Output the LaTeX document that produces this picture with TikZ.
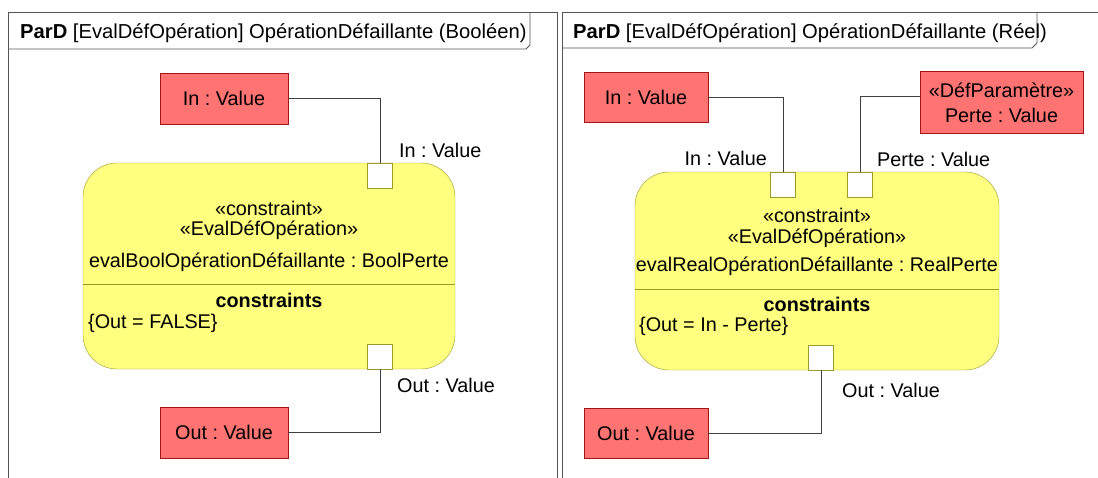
\documentclass[tikz,border=0pt]{standalone}
\usepackage{fontspec}
\setmainfont{Liberation Sans}
\frenchspacing
\usetikzlibrary{positioning}
\definecolor{cval}{RGB}{255,115,115}
\definecolor{cvalb}{RGB}{165,20,20}
\definecolor{cblk}{RGB}{255,255,128}
\definecolor{cblkb}{RGB}{155,155,40}
\definecolor{cfrm}{RGB}{85,85,85}

\begin{document}
\begin{tikzpicture}[x=1pt,y=-1pt,
  font=\fontsize{19.8}{22}\selectfont,
  val/.style={rectangle,draw=cvalb,fill=cval,inner sep=0,align=center},
  blk/.style={rectangle,rounded corners=34pt,draw=cblkb,fill=cblk,inner sep=0},
  port/.style={rectangle,draw=cblkb,fill=white,minimum size=25pt,inner sep=0},
  wire/.style={draw=black!75,line width=0.9pt},
  frm/.style={draw=cfrm,line width=0.9pt},
  sep/.style={draw=cblkb,line width=0.8pt},
  txt/.style={inner sep=0},
  ttl/.style={txt,anchor=west,font=\fontsize{20.2}{24}\selectfont},
]
\clip (0,0) rectangle (1098,477);
\fill[white] (0,0) rectangle (1098,477);

% Booleen
\draw[frm] (8,490) -- (8,12) -- (557,12) -- (557,490);
\draw[frm] (8,49) -- (526,49) -- (530,45) -- (530,12);
\node[ttl] (t1) at (20,33) {\textbf{ParD} [EvalDéfOpération] OpérationDéfaillante (Booléen)};
\node[val,minimum width=128,minimum height=51] (in1) at (224,98.5) {In : Value};
\node[val,minimum width=128,minimum height=51] (out1) at (224,432.5) {Out : Value};
\node[blk,minimum width=372,minimum height=206] (c1) at (269,266) {};
\node[txt] (s1a) at (269,208) {«constraint»};
\node[txt] (s1b) at (269,230) {«EvalDéfOpération»};
\node[txt] (s1c) at (269,262) {evalBoolOpérationDéfaillante : BoolPerte};
\draw[sep] (c1.west |- 0,284) -- (c1.east |- 0,284);
\node[txt] (k1) at (269,300.5) {\textbf{constraints}};
\node[txt,anchor=west] (e1) at (88,323) {\{Out = FALSE\}};
\node[port,anchor=north] (pin1) at (380,163) {};
\node[port,anchor=south] (pout1) at (380,369) {};
\node[txt,anchor=west] (lin1) at (399,150) {In : Value};
\node[txt,anchor=west] (lout1) at (397,385) {Out : Value};
\draw[wire] (in1.east) -| (pin1.north);
\draw[wire] (pout1.south) |- (out1.east);

% Reel
\draw[frm] (562,490) -- (562,12) -- (1110,12);
\draw[frm] (562,48) -- (1032,48) -- (1037,43) -- (1037,12);
\node[ttl] (t2) at (573,33) {\textbf{ParD} [EvalDéfOpération] OpérationDéfaillante (Réel)};
\node[val,minimum width=124,minimum height=50] (in2) at (646,97) {In : Value};
\node[val,minimum width=163,minimum height=62] (perte2) at (1001.5,102.5) {«DéfParamètre»\\[3pt]Perte : Value};
\node[val,minimum width=124,minimum height=50] (out2) at (646,433) {Out : Value};
\node[blk,minimum width=364,minimum height=198] (c2) at (817,271) {};
\node[txt] (s2a) at (817,215) {«constraint»};
\node[txt] (s2b) at (817,238) {«EvalDéfOpération»};
\node[txt] (s2c) at (817,266.5) {evalRealOpérationDéfaillante : RealPerte};
\draw[sep] (c2.west |- 0,289) -- (c2.east |- 0,289);
\node[txt] (k2) at (817,304) {\textbf{constraints}};
\node[txt,anchor=west] (e2) at (639,326.5) {\{Out = In - Perte\}};
\node[port,anchor=north] (pin2) at (783,172) {};
\node[port,anchor=north] (pperte2) at (860,172) {};
\node[port,anchor=south] (pout2) at (821,370) {};
\node[txt,anchor=east] (lin2) at (767,158) {In : Value};
\node[txt,anchor=west] (lperte2) at (877,159) {Perte : Value};
\node[txt,anchor=west] (lout2) at (842,390) {Out : Value};
\draw[wire] (in2.east) -| (pin2.north);
\draw[wire] ([yshift=5.8pt]perte2.west) -| (pperte2.north);
\draw[wire] (pout2.south) |- (out2.east);
\end{tikzpicture}
\end{document}
